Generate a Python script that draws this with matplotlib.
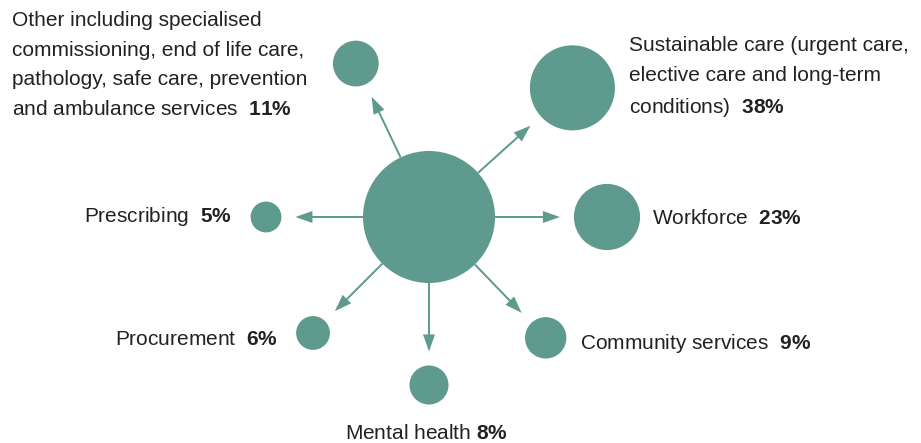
import numpy as np
import matplotlib
matplotlib.use("Agg")
import matplotlib.pyplot as plt
from matplotlib.patches import Circle

plt.rcParams['font.family'] = ['Liberation Sans', 'DejaVu Sans']
plt.rcParams['mathtext.fontset'] = 'custom'
plt.rcParams['mathtext.rm'] = 'Liberation Sans'
plt.rcParams['mathtext.bf'] = 'Liberation Sans:bold'

# ---- data ----
categories = [
    "Sustainable care (urgent care,\nelective care and long-term\nconditions)",
    "Workforce",
    "Community services",
    "Mental health",
    "Procurement",
    "Prescribing",
    "Other including specialised\ncommissioning, end of life care,\npathology, safe care, prevention\nand ambulance services",
]
values = [38, 23, 9, 8, 6, 5, 11]

# ---- layout (pixel space) ----
W, H = 921, 443
center = (429, 217)
center_r = 66
k = 6.9                      # radius = k * sqrt(value)
angles = [42, 0, -46, -90, -135, 180, 115.5]   # degrees, counter-clockwise
dists = [193, 178, 168, 168, 164, 163, 170]
gap = 14
# (x, y, ha, va, separator)
label_pos = [(629, 36, 'left', 'top', '  '), (652, 224, 'left', 'baseline', '  '),
             (580, 349, 'left', 'baseline', '  '), (426, 439, 'center', 'baseline', ' '),
             (278, 345, 'right', 'baseline', '  '), (232, 222, 'right', 'baseline', '  '),
             (12, 11, 'left', 'top', '  ')]

color = '#5f9a8f'
tcolor = '#222222'

fig = plt.figure(figsize=(W / 100, H / 100), dpi=100)
ax = fig.add_axes([0, 0, 1, 1])
ax.set_xlim(0, W)
ax.set_ylim(H, 0)
ax.set_aspect('equal')
ax.axis('off')

cx, cy = center
ax.add_patch(Circle(center, center_r, color=color, lw=0, zorder=3))

for cat, v, ang, d, (lx, ly, ha, va, sep) in zip(categories, values, angles, dists, label_pos):
    a = np.deg2rad(ang)
    ux, uy = np.cos(a), -np.sin(a)
    px, py = cx + d * ux, cy + d * uy
    r = k * np.sqrt(v)
    ax.add_patch(Circle((px, py), r, color=color, lw=0, zorder=3))
    # arrow from big circle edge to near small circle
    sx, sy = cx + center_r * ux, cy + center_r * uy
    length = d - center_r - r - gap
    ax.arrow(sx, sy, length * ux, length * uy, width=2.0, head_width=12,
             head_length=17, length_includes_head=True, color=color, lw=0,
             zorder=2)
    lines = cat.split('\n')
    lines[-1] = lines[-1] + sep + r'$\mathbf{' + str(v) + r'\%}$'
    ax.text(lx, ly, '\n'.join(lines), ha=ha, va=va, fontsize=15,
            color=tcolor, linespacing=1.7, multialignment='left')

fig.savefig('out.png', dpi=100)
